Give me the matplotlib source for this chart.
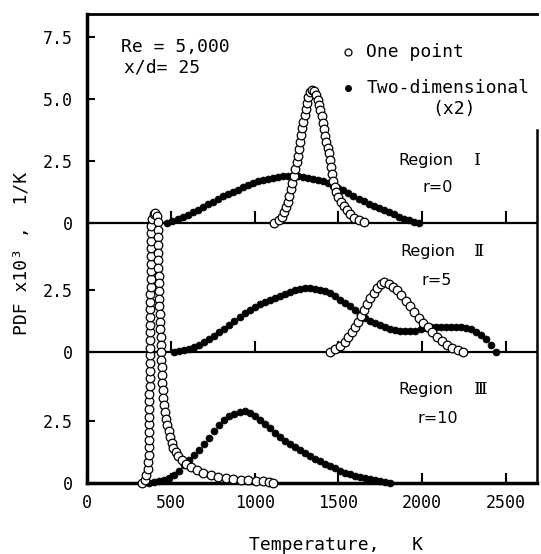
import numpy as np
import matplotlib
matplotlib.use("Agg")
import matplotlib.pyplot as plt

# 数据：温度 (K) 与 PDF (x10^3, 1/K)
# Region I, r=0
r1_dim_T = [480, 510, 540, 570, 600, 630, 660, 690, 720, 750, 780, 810, 840, 870, 900, 930, 960,
            990, 1020, 1050, 1080, 1110, 1140, 1170, 1200, 1230, 1260, 1290, 1320, 1350, 1380,
            1410, 1440, 1470, 1500, 1530, 1560, 1590, 1620, 1650, 1680, 1710, 1740, 1770, 1800,
            1830, 1860, 1890, 1920, 1950, 1980]
r1_dim_pdf = [0.0, 0.08, 0.16, 0.24, 0.32, 0.42, 0.52, 0.63, 0.74, 0.85, 0.96, 1.06, 1.15, 1.25,
              1.34, 1.43, 1.52, 1.60, 1.67, 1.73, 1.78, 1.82, 1.85, 1.87, 1.88, 1.88, 1.87, 1.85,
              1.82, 1.78, 1.73, 1.67, 1.59, 1.50, 1.41, 1.30, 1.19, 1.08, 0.97, 0.87, 0.77, 0.68,
              0.60, 0.51, 0.42, 0.33, 0.24, 0.16, 0.09, 0.04, 0.0]
r1_one_T = [1115, 1143, 1163, 1178, 1189, 1197, 1205, 1215, 1224, 1234, 1243, 1252, 1260, 1267,
            1273, 1279, 1285, 1291, 1298, 1305, 1312, 1320, 1330, 1343, 1357, 1369, 1378, 1386,
            1393, 1400, 1407, 1413, 1420, 1428, 1436, 1443, 1449, 1455, 1461, 1468, 1477, 1488,
            1500, 1515, 1532, 1550, 1571, 1595, 1622, 1651]
r1_one_pdf = [0.0, 0.10, 0.24, 0.42, 0.62, 0.84, 1.08, 1.36, 1.62, 1.88, 2.16, 2.44, 2.70, 2.98,
              3.26, 3.54, 3.82, 4.08, 4.34, 4.60, 4.86, 5.10, 5.28, 5.38, 5.33, 5.18, 4.98, 4.78,
              4.56, 4.30, 4.04, 3.78, 3.52, 3.28, 3.04, 2.80, 2.52, 2.24, 1.96, 1.70, 1.46, 1.24,
              1.04, 0.84, 0.66, 0.49, 0.34, 0.20, 0.10, 0.03]

# Region II, r=5
r2_dim_T = [520, 550, 580, 610, 640, 670, 700, 730, 760, 790, 820, 850, 880, 910, 940, 970, 1000,
            1030, 1060, 1090, 1120, 1150, 1180, 1210, 1240, 1270, 1300, 1330, 1360, 1390, 1420,
            1450, 1480, 1510, 1540, 1570, 1600, 1630, 1660, 1690, 1720, 1750, 1780, 1810, 1840,
            1870, 1900, 1930, 1960, 1990, 2020, 2050, 2080, 2110, 2140, 2170, 2200, 2230, 2260,
            2290, 2320, 2350, 2380, 2410, 2440]
r2_dim_pdf = [0.0, 0.04, 0.09, 0.14, 0.21, 0.29, 0.40, 0.53, 0.66, 0.80, 0.94, 1.09, 1.25, 1.42,
              1.57, 1.71, 1.84, 1.95, 2.04, 2.12, 2.20, 2.28, 2.36, 2.44, 2.50, 2.55, 2.58, 2.58,
              2.56, 2.52, 2.46, 2.38, 2.26, 2.13, 2.01, 1.88, 1.72, 1.55, 1.40, 1.27, 1.17, 1.09,
              1.01, 0.94, 0.88, 0.85, 0.84, 0.84, 0.86, 0.92, 0.98, 1.01, 1.03, 1.04, 1.04, 1.04,
              1.03, 1.01, 0.98, 0.92, 0.83, 0.70, 0.52, 0.30, 0.02]
r2_one_T = [1450, 1482, 1512, 1538, 1560, 1580, 1598, 1616, 1634, 1652, 1670, 1690, 1710, 1732,
            1754, 1775, 1800, 1825, 1850, 1876, 1902, 1928, 1954, 1980, 2006, 2032, 2060, 2088,
            2118, 2148, 2180, 2212, 2245]
r2_one_pdf = [0.0, 0.12, 0.26, 0.42, 0.60, 0.82, 1.03, 1.24, 1.48, 1.72, 1.95, 2.18, 2.40, 2.60,
              2.76, 2.85, 2.78, 2.64, 2.50, 2.30, 2.09, 1.87, 1.63, 1.40, 1.19, 1.00, 0.80, 0.62,
              0.44, 0.28, 0.16, 0.07, 0.0]

# Region III, r=10
r3_dim_T = [370, 400, 430, 460, 490, 520, 550, 580, 610, 640, 670, 700, 730, 760, 790, 820, 850,
            880, 910, 940, 970, 1000, 1030, 1060, 1090, 1120, 1150, 1180, 1210, 1240, 1270, 1300,
            1330, 1360, 1390, 1420, 1450, 1480, 1510, 1540, 1570, 1600, 1630, 1660, 1690, 1720,
            1750, 1780, 1810]
r3_dim_pdf = [0.0, 0.03, 0.07, 0.12, 0.20, 0.32, 0.50, 0.72, 0.92, 1.12, 1.34, 1.58, 1.83, 2.09,
              2.35, 2.55, 2.70, 2.81, 2.88, 2.90, 2.84, 2.72, 2.56, 2.40, 2.22, 2.04, 1.88, 1.72,
              1.58, 1.44, 1.32, 1.20, 1.08, 0.98, 0.88, 0.78, 0.68, 0.59, 0.50, 0.42, 0.35, 0.29,
              0.24, 0.19, 0.15, 0.11, 0.07, 0.04, 0.01]
r3_one_T = [331, 345, 355, 362, 366, 368,
            369, 369, 370, 370, 371, 371, 372, 372, 373, 373, 374, 374, 375, 375, 376, 376, 377,
            377, 378, 378, 378, 379, 379, 379, 380, 380, 380, 381, 381,
            384, 389, 398, 407, 416, 421,
            423, 424, 424, 425, 426, 426, 427, 428, 429, 430, 432, 433, 435, 437, 439, 441, 442,
            444, 446, 448, 450, 453, 456,
            461, 466, 472, 479, 487, 495, 505, 516, 529, 545,
            565, 590, 620, 655, 695, 738, 782, 827, 872, 917, 962, 1007, 1050, 1085, 1110]
r3_one_pdf = [0.0, 0.12, 0.32, 0.56, 0.84, 1.14,
              1.45, 1.76, 2.07, 2.38, 2.69, 3.00, 3.31, 3.62, 3.93, 4.24, 4.55, 4.86, 5.17, 5.48,
              5.79, 6.10, 6.41, 6.72, 7.03, 7.34, 7.65, 7.96, 8.27, 8.58, 8.89, 9.20, 9.51, 9.82,
              10.12,
              10.40, 10.68, 10.88, 10.95, 10.82, 10.56,
              10.26, 9.95, 9.64, 9.33, 9.02, 8.71, 8.40, 8.09, 7.78, 7.47, 7.16, 6.85, 6.54, 6.23,
              5.92, 5.61, 5.30, 4.99, 4.68, 4.37, 4.06, 3.75, 3.44,
              3.14, 2.86, 2.60, 2.35, 2.10, 1.86, 1.63, 1.42, 1.24, 1.08,
              0.92, 0.77, 0.63, 0.51, 0.41, 0.33, 0.26, 0.21, 0.17, 0.14, 0.12, 0.10, 0.07, 0.04,
              0.02]

x_ticks = [0, 500, 1000, 1500, 2000, 2500]
x_tick_labels = ["0", "500", "1000", "1500", "2000", "2500"]

# 各区域基线的纵向偏移
OFF_R1 = 10.55
OFF_R2 = 5.3
OFF_R3 = 0.0
MONO = "DejaVu Sans Mono"

fig = plt.figure(figsize=(5.41, 5.54), dpi=100)
ax = fig.add_axes([87 / 541, 71 / 554, 450 / 541, 469 / 554])
ax.set_xlim(0, 2685)
ax.set_ylim(0, 19.0)


def draw_region(dim_T, dim_pdf, one_T, one_pdf, off):
    ax.plot(dim_T, np.array(dim_pdf) + off, "o", ms=5.0, mfc="black", mec="black",
            mew=0.5, zorder=3, clip_on=False)
    ax.plot(one_T, np.array(one_pdf) + off, "o", ms=6.2, mfc="white", mec="black",
            mew=0.9, zorder=4, clip_on=False)


# 基线与刻度
for off in [OFF_R1, OFF_R2]:
    ax.axhline(off, color="black", lw=1.6, zorder=1)
    for t in x_ticks[1:]:
        ax.plot([t, t], [off, off + 0.42], color="black", lw=1.5, zorder=1)

draw_region(r1_dim_T, r1_dim_pdf, r1_one_T, r1_one_pdf, OFF_R1)
draw_region(r2_dim_T, r2_dim_pdf, r2_one_T, r2_one_pdf, OFF_R2)
draw_region(r3_dim_T, r3_dim_pdf, r3_one_T, r3_one_pdf, OFF_R3)

# 坐标轴
ax.set_xticks(x_ticks)
ax.set_xticklabels(x_tick_labels, family=MONO, fontsize=12)
ax.tick_params(axis="x", direction="in", length=7, width=1.5, pad=8)
ytick_pos = [OFF_R3, OFF_R3 + 2.5, OFF_R2, OFF_R2 + 2.5, OFF_R1, OFF_R1 + 2.5, OFF_R1 + 5.0,
             OFF_R1 + 7.5]
ax.set_yticks(ytick_pos)
ax.set_yticklabels(["0", "2.5", "0", "2.5", "0", "2.5", "5.0", "7.5"], family=MONO, fontsize=12)
ax.tick_params(axis="y", direction="in", length=6, width=1.5, pad=10)

ax.spines["left"].set_linewidth(2.5)
ax.spines["bottom"].set_linewidth(2.5)
ax.spines["top"].set_linewidth(2.0)
ax.spines["right"].set_linewidth(1.8)
ax.spines["right"].set_bounds(0, 14.3)

ax.set_xlabel("Temperature,   K", family=MONO, fontsize=13, va="center")
ax.xaxis.set_label_coords(0.553, -0.132)
ax.set_ylabel("PDF x10\u00b3 ,  1/K", family=MONO, fontsize=13, va="center")
ax.yaxis.set_label_coords(-0.144, 0.49)

# 文字注释
ax.text(202, 17.65, "Re = 5,000", family=MONO, fontsize=13, va="center")
ax.text(220, 16.82, "x/d= 25", family=MONO, fontsize=13, va="center")

ax.plot([1560], [17.47], "o", ms=5, mfc="white", mec="black", mew=0.9, clip_on=False)
ax.text(1667, 17.47, "One point", family=MONO, fontsize=13, va="center")
ax.plot([1560], [16.01], "o", ms=4, mfc="black", mec="black", clip_on=False)
ax.text(1667, 16.01, "Two-dimensional", family=MONO, fontsize=13, va="center")
ax.text(2060, 15.16, "(x2)", family=MONO, fontsize=13, va="center")

# 区域名称，罗马数字用衬线字体
region_labels = [(1857, 13.05, "\u2160"), (1869, 9.36, "\u2161"), (1857, 3.77, "\u2162")]
for tx, ty, num in region_labels:
    ax.text(tx, ty, "Region", fontsize=11.5, va="center")
    ax.text(2310, ty, num, family="DejaVu Serif", fontsize=12.5, va="center")
ax.text(2095, 11.96, "r=0", fontsize=11.5, va="center", ha="center")
ax.text(2089, 8.19, "r=5", fontsize=11.5, va="center", ha="center")
ax.text(2095, 2.63, "r=10", fontsize=11.5, va="center", ha="center")

plt.savefig("out.png", dpi=100)
